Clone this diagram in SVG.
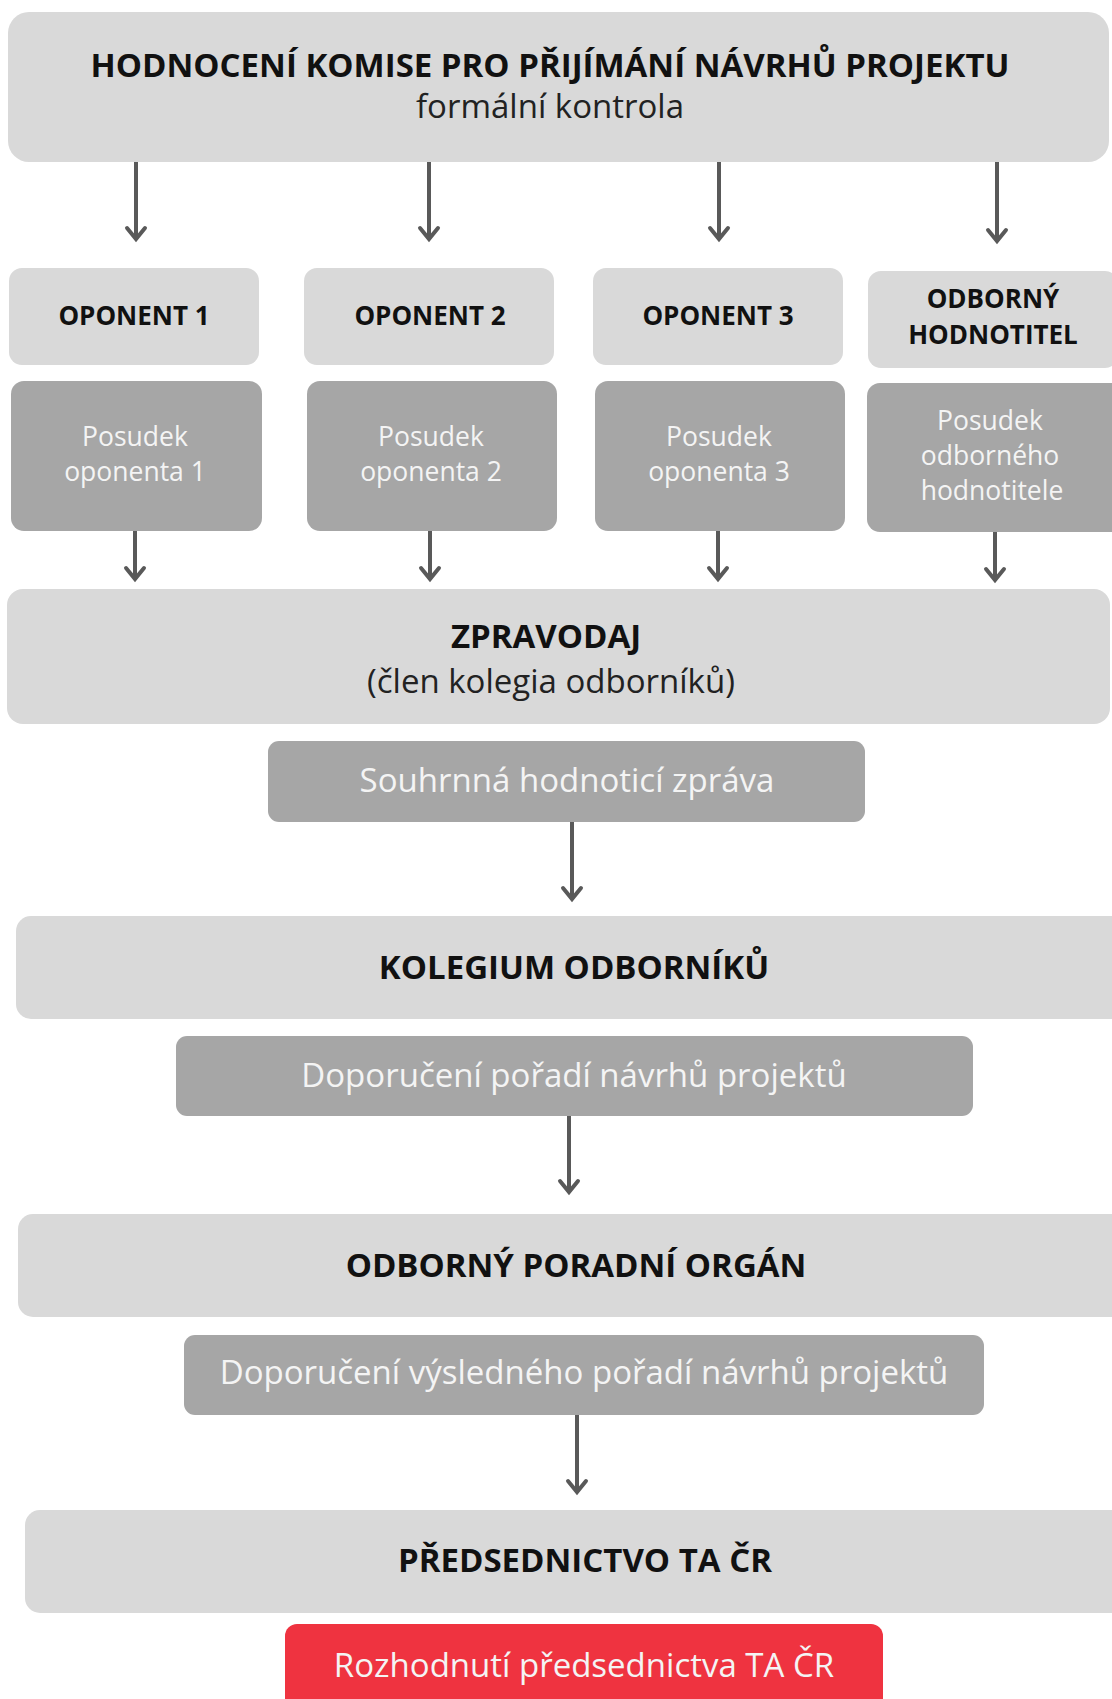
<svg xmlns="http://www.w3.org/2000/svg" width="1112" height="1699" viewBox="0 0 1112 1699">
<style>
.lt{fill:#d9d9d9}
.dk{fill:#a6a6a6}
.red{fill:#ef3340}
text{font-family:"Open Sans","Noto Sans","Liberation Sans",sans-serif;text-anchor:middle}
.h{font-weight:700;fill:#111;font-size:33px}
.hs{font-weight:700;fill:#111;font-size:26px}
.r{font-weight:400;fill:#222;font-size:33px}
.w{font-weight:400;fill:#f4f4f4;font-size:26.5px}
.wl{font-weight:400;fill:#f4f4f4;font-size:33px}
.con line{stroke:#595959;stroke-width:4;marker-end:url(#ah)}
</style>
<defs>
<marker id="ah" markerUnits="userSpaceOnUse" markerWidth="30" markerHeight="30" viewBox="-15 -15 30 30" refX="0" refY="0" orient="auto">
<path d="M-11,-9 L0,0 L-11,9" fill="none" stroke="#595959" stroke-width="4" stroke-linecap="round"/>
</marker>
</defs>
<rect width="1112" height="1699" fill="#ffffff"/>

<g id="komise">
<rect class="lt" x="8" y="12" width="1101" height="150" rx="21"/>
<text class="h" x="550" y="77">HODNOCENÍ KOMISE PRO PŘIJÍMÁNÍ NÁVRHŮ PROJEKTU</text>
<text class="r" x="550" y="118">formální kontrola</text>
</g>

<g id="oponent1">
<rect class="lt" x="9" y="268" width="250" height="97" rx="13"/>
<text class="hs" x="134" y="325">OPONENT 1</text>
</g>
<g id="oponent2">
<rect class="lt" x="304" y="268" width="250" height="97" rx="13"/>
<text class="hs" x="430" y="325">OPONENT 2</text>
</g>
<g id="oponent3">
<rect class="lt" x="593" y="268" width="250" height="97" rx="13"/>
<text class="hs" x="718" y="325">OPONENT 3</text>
</g>
<g id="hodnotitel">
<rect class="lt" x="868" y="271" width="250" height="97" rx="13"/>
<text class="hs" x="993" y="308">ODBORNÝ</text>
<text class="hs" x="993" y="344">HODNOTITEL</text>
</g>

<g id="posudek1">
<rect class="dk" x="11" y="381" width="251" height="150" rx="13"/>
<text class="w" x="135" y="446">Posudek</text>
<text class="w" x="135" y="481">oponenta 1</text>
</g>
<g id="posudek2">
<rect class="dk" x="307" y="381" width="250" height="150" rx="13"/>
<text class="w" x="431" y="446">Posudek</text>
<text class="w" x="431" y="481">oponenta 2</text>
</g>
<g id="posudek3">
<rect class="dk" x="595" y="381" width="250" height="150" rx="13"/>
<text class="w" x="719" y="446">Posudek</text>
<text class="w" x="719" y="481">oponenta 3</text>
</g>
<g id="posudek4">
<rect class="dk" x="867" y="383" width="260" height="149" rx="13"/>
<text class="w" x="990" y="430">Posudek</text>
<text class="w" x="990" y="465">odborného</text>
<text class="w" x="992" y="500">hodnotitele</text>
</g>

<g id="zpravodaj">
<rect class="lt" x="7" y="589" width="1103" height="135" rx="16"/>
<text class="h" x="546" y="648">ZPRAVODAJ</text>
<text class="r" x="551" y="693">(člen kolegia odborníků)</text>
</g>
<g id="souhrnna">
<rect class="dk" x="268" y="741" width="597" height="81" rx="11"/>
<text class="wl" x="567" y="792">Souhrnná hodnoticí zpráva</text>
</g>

<g id="kolegium">
<rect class="lt" x="16" y="916" width="1115" height="103" rx="15"/>
<text class="h" x="574" y="979">KOLEGIUM ODBORNÍKŮ</text>
</g>
<g id="doporuceni">
<rect class="dk" x="176" y="1036" width="797" height="80" rx="11"/>
<text class="wl" x="574" y="1087">Doporučení pořadí návrhů projektů</text>
</g>

<g id="poradni">
<rect class="lt" x="18" y="1214" width="1115" height="103" rx="15"/>
<text class="h" x="576" y="1277">ODBORNÝ PORADNÍ ORGÁN</text>
</g>
<g id="vysledne">
<rect class="dk" x="184" y="1335" width="800" height="80" rx="11"/>
<text class="wl" x="584" y="1384">Doporučení výsledného pořadí návrhů projektů</text>
</g>

<g id="predsednictvo">
<rect class="lt" x="25" y="1510" width="1110" height="103" rx="15"/>
<text class="h" x="585" y="1572">PŘEDSEDNICTVO TA ČR</text>
</g>
<g id="rozhodnuti">
<rect class="red" x="285" y="1624" width="598" height="100" rx="12"/>
<text class="wl" x="584" y="1677">Rozhodnutí předsednictva TA ČR</text>
</g>

<g id="connectors" class="con">
<line x1="136" y1="162" x2="136" y2="239"/>
<line x1="429" y1="162" x2="429" y2="239"/>
<line x1="719" y1="162" x2="719" y2="239"/>
<line x1="997" y1="162" x2="997" y2="241"/>
<line x1="135" y1="531" x2="135" y2="579"/>
<line x1="430" y1="531" x2="430" y2="579"/>
<line x1="718" y1="531" x2="718" y2="579"/>
<line x1="995" y1="532" x2="995" y2="580"/>
<line x1="572" y1="822" x2="572" y2="899"/>
<line x1="569" y1="1116" x2="569" y2="1192"/>
<line x1="577" y1="1415" x2="577" y2="1492"/>
</g>
</svg>
